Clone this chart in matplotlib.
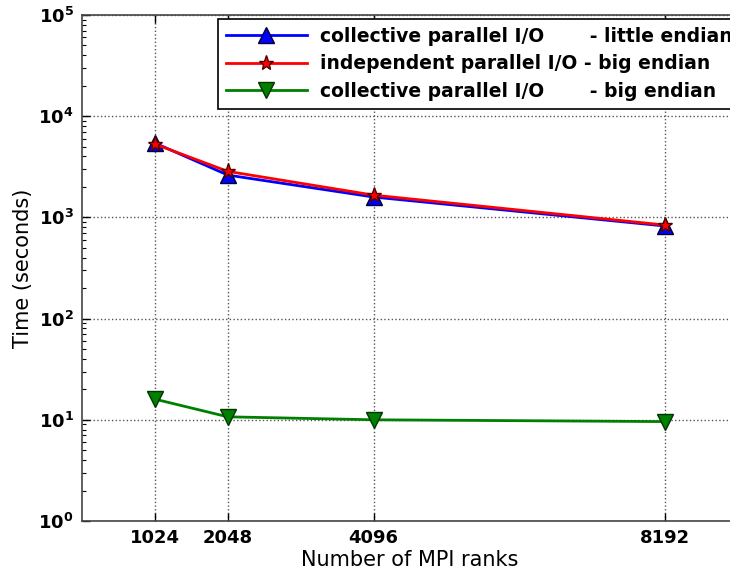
import matplotlib
matplotlib.use("Agg")
import matplotlib.pyplot as plt
from matplotlib.ticker import LogLocator

ranks = [1024, 2048, 4096, 8192]
coll_little = [5430, 2620, 1590, 822]
indep_big = [5300, 2850, 1660, 840]
coll_big = [16.0, 10.7, 10.0, 9.6]

labels = [
    "collective parallel I/O       - little endian",
    "independent parallel I/O - big endian",
    "collective parallel I/O       - big endian",
]

plt.rcParams['font.family'] = ['DejaVu Sans']
plt.rcParams['xtick.direction'] = 'in'
plt.rcParams['ytick.direction'] = 'in'

fig = plt.figure(figsize=(7.3, 5.73), dpi=100)
ax = fig.add_axes([82 / 730, 1 - 521 / 573, (738 - 82) / 730, (521 - 15) / 573])

ax.plot(ranks, coll_little, color='blue', lw=2, marker='^', markersize=12,
        markeredgecolor='#000033', label=labels[0])
ax.plot(ranks, indep_big, color='red', lw=2, marker='*', markersize=11,
        markeredgecolor='#550000', label=labels[1])
ax.plot(ranks, coll_big, color='green', lw=2, marker='v', markersize=12,
        markeredgecolor='#003300', label=labels[2])

ax.set_yscale('log')
ax.set_ylim(1, 1e5)
ax.set_xlim(0, 9216)
ax.set_xticks(ranks)
ax.yaxis.set_major_locator(LogLocator(base=10, numticks=10))
ax.yaxis.set_minor_locator(LogLocator(base=10, subs=range(2, 10), numticks=20))
ax.grid(True, which='major', linestyle=':', color='#555555', lw=1)

for lbl in ax.get_xticklabels() + ax.get_yticklabels():
    lbl.set_fontweight('bold')
    lbl.set_fontsize(13)

ax.tick_params(which='major', length=6, width=1, top=True, right=True, pad=6)
ax.tick_params(which='minor', length=3, width=0.8, right=True)
for sp in ax.spines.values():
    sp.set_color('#444444')
    sp.set_linewidth(1.2)

ax.set_xlabel("Number of MPI ranks", fontsize=15, labelpad=2)
ax.set_ylabel("Time (seconds)", fontsize=15, labelpad=4)

# legend runs off the right edge of the figure
leg = ax.legend(loc='upper left', bbox_to_anchor=(218 / 730, 1 - 19 / 573),
                bbox_transform=fig.transFigure, prop={'weight': 'bold', 'size': 13.5},
                fancybox=False, framealpha=1, borderaxespad=0, borderpad=0.42,
                handlelength=4.3, handletextpad=0.7, labelspacing=0.45, numpoints=1)
leg.get_frame().set_edgecolor('black')
leg.get_frame().set_linewidth(1.2)

fig.savefig("out.png", dpi=100)
